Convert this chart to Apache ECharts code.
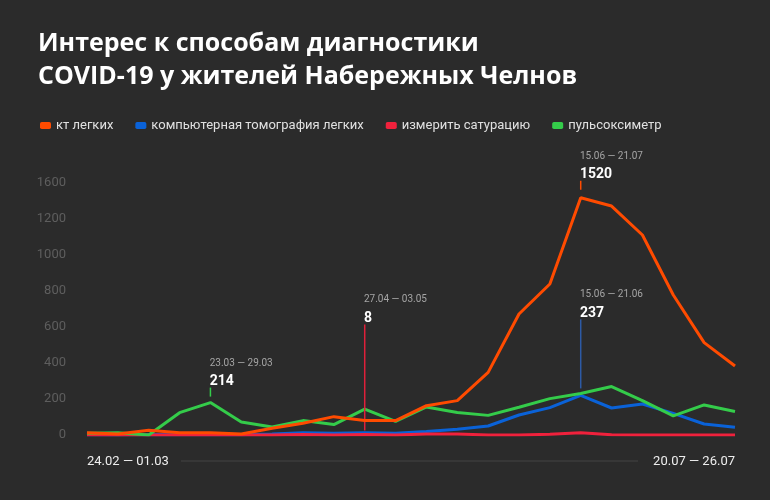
<!DOCTYPE html>
<html>
<head>
<meta charset="utf-8">
<script src="https://cdn.jsdelivr.net/npm/echarts@6/dist/echarts.min.js"></script>
<style>
  html, body { margin: 0; padding: 0; background: #2b2b2b; }
  #main { width: 770px; height: 500px; }
</style>
</head>
<body>
<div id="main"></div>
<script>
const myChart = echarts.init(document.getElementById('main'))

// недели (по понедельникам)
const weeks = [
  '24.02 — 01.03', '02.03 — 08.03', '09.03 — 15.03', '16.03 — 22.03',
  '23.03 — 29.03', '30.03 — 05.04', '06.04 — 12.04', '13.04 — 19.04',
  '20.04 — 26.04', '27.04 — 03.05', '04.05 — 10.05', '11.05 — 17.05',
  '18.05 — 24.05', '25.05 — 31.05', '01.06 — 07.06', '08.06 — 14.06',
  '15.06 — 21.06', '22.06 — 28.06', '29.06 — 05.07', '06.07 — 12.07',
  '13.07 — 19.07', '20.07 — 26.07'
]

const ktLegkih = [13, 6, 26, 13, 13, 6, 37, 65, 102, 80, 80, 163, 191, 348, 672, 839, 1318, 1272, 1111, 778, 513, 383]
const komputernaya = [2, 0, 3, 2, 2, 2, 6, 12, 10, 12, 10, 19, 32, 50, 111, 152, 220, 150, 172, 120, 61, 43]
const saturaciya = [0, 0, 0, 0, 0, 0, 0, 3, 0, 3, 0, 5, 6, 0, 0, 4, 12, 2, 0, 0, 0, 0]
const pulsoksimetr = [10, 13, 0, 124, 180, 72, 45, 80, 58, 144, 76, 156, 125, 109, 154, 202, 231, 269, 191, 106, 167, 131]

// подписи оси Y (так на картинке: верхняя — 1600)
const yTickLabels = ['0', '200', '400', '600', '800', '1000', '1200', '1600']

// выноски: индекс недели, подпись даты, число
const noteIndex = [4, 9, 16, 16]
const noteDates = ['23.03 — 29.03', '27.04 — 03.05', '15.06 — 21.07', '15.06 — 21.06']
const noteValues = ['214', '8', '1520', '237']

const fontMain = 'Roboto, "Noto Sans", sans-serif'

// выноска: тонкая вертикальная черта над точкой и текст над ней
function note(n, data, color, gap, len) {
  const i = noteIndex[n]
  return {
    silent: true,
    animation: false,
    data: [{
      coord: [i, data[i]],
      symbol: 'rect',
      symbolSize: [1.5, len],
      symbolOffset: [0, -(gap + len / 2)],
      itemStyle: { color: color },
      label: {
        show: true,
        position: [0, 0],
        align: 'left',
        verticalAlign: 'bottom',
        offset: [0, 3],
        formatter: '{d|' + noteDates[n] + '}\n{v|' + noteValues[n] + '}',
        rich: {
          d: { fontSize: 10, color: '#a5a5a5', lineHeight: 19, fontFamily: fontMain },
          v: { fontSize: 14, color: '#ffffff', fontWeight: 'bold', lineHeight: 18, fontFamily: fontMain },
        },
      },
    }],
  }
}

var option = {
  backgroundColor: '#2b2b2b',
  animation: false,
  title: {
    text: 'Интерес к способам диагностики\nCOVID-19 у жителей Набережных Челнов',
    left: 33,
    top: 22,
    textStyle: {
      color: '#ffffff',
      fontSize: 25,
      fontWeight: 'bold',
      lineHeight: 33,
      fontFamily: '"Open Sans", sans-serif',
    },
  },
  legend: {
    left: 35,
    top: 114,
    icon: 'roundRect',
    itemWidth: 11,
    itemHeight: 7,
    itemGap: 22,
    textStyle: { color: '#e0e0e0', fontSize: 13, fontFamily: fontMain },
  },
  grid: { left: 87, right: 35, top: 183, bottom: 65 },
  xAxis: {
    type: 'category',
    data: weeks,
    boundaryGap: false,
    axisLine: { show: false },
    axisTick: { show: false },
    axisLabel: {
      color: '#eeeeee',
      fontSize: 13,
      fontFamily: fontMain,
      margin: 20,
      interval: (idx) => idx === 0 || idx === weeks.length - 1,
      alignMinLabel: 'left',
      alignMaxLabel: 'right',
    },
  },
  yAxis: {
    type: 'value',
    min: 0,
    max: 1400,
    interval: 200,
    splitLine: { show: false },
    axisLabel: {
      color: '#5e5e5e',
      fontSize: 13,
      fontFamily: fontMain,
      margin: 21,
      formatter: (v) => yTickLabels[v / 200],
    },
  },
  graphic: [
    { type: 'line', shape: { x1: 181, y1: 461, x2: 638, y2: 461 }, style: { stroke: '#444444', lineWidth: 1 } },
  ],
  series: [
    {
      name: 'кт легких', type: 'line', data: ktLegkih, z: 5,
      symbol: 'none', color: '#ff4b00', lineStyle: { width: 3 },
      markPoint: note(2, ktLegkih, '#ff4b00', 8, 9),
    },
    {
      name: 'компьютерная томография легких', type: 'line', data: komputernaya, z: 2,
      symbol: 'none', color: '#0a62d8', lineStyle: { width: 3 },
      markPoint: note(3, komputernaya, '#2d5aa5', 7, 69),
    },
    {
      name: 'измерить сатурацию', type: 'line', data: saturaciya, z: 3,
      symbol: 'none', color: '#f0213c', lineStyle: { width: 3 },
      markPoint: note(1, saturaciya, '#e0203a', 4, 106),
    },
    {
      name: 'пульсоксиметр', type: 'line', data: pulsoksimetr, z: 4,
      symbol: 'none', color: '#34cc4a', lineStyle: { width: 3 },
      markPoint: note(0, pulsoksimetr, '#34cc4a', 6, 9),
    },
  ],
}

myChart.setOption(option)
</script>
</body>
</html>
